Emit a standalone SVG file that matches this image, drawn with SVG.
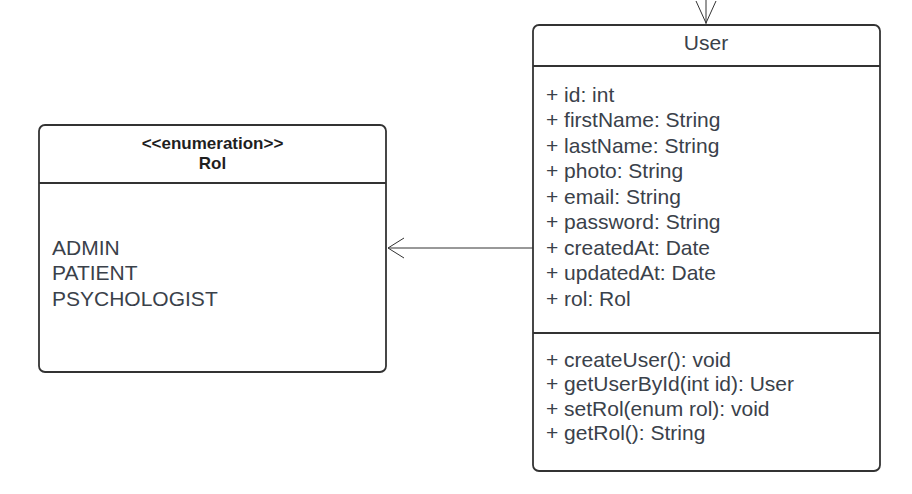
<svg xmlns="http://www.w3.org/2000/svg" width="912" height="494" viewBox="0 0 912 494">
<style>
.box{fill:#ffffff;stroke:#333333;stroke-width:1.8}
.div{stroke:#333333;stroke-width:1.8}
.t{font-family:"Liberation Sans",Arial,sans-serif;font-size:21px;fill:#3a414a}
.h{font-family:"Liberation Sans",Arial,sans-serif;font-size:17px;font-weight:bold;fill:#1f1f1f}
.c{stroke:#333333;stroke-width:1;fill:none}
</style>
<rect width="912" height="494" fill="#ffffff"/>
<g id="connectors">
<line class="c" x1="706" y1="0" x2="706" y2="24"/>
<polyline class="c" points="696,1 706,23 716,1"/>
<line class="c" x1="533" y1="248" x2="388" y2="248"/>
<polyline class="c" points="404,238 388,248 404,258"/>
</g>
<g id="rol">
<rect class="box" x="39" y="125" width="347" height="247" rx="6"/>
<line class="div" x1="39" y1="183" x2="386" y2="183"/>
<text class="h" x="212.5" y="148.5" text-anchor="middle">&lt;&lt;enumeration&gt;&gt;</text>
<text class="h" x="212.5" y="169" text-anchor="middle">Rol</text>
<text class="t" x="52" y="255">ADMIN</text>
<text class="t" x="52" y="280.3">PATIENT</text>
<text class="t" x="52" y="305.6">PSYCHOLOGIST</text>
</g>
<g id="user">
<rect class="box" x="533" y="25" width="347" height="446" rx="6"/>
<line class="div" x1="533" y1="66" x2="880" y2="66"/>
<line class="div" x1="533" y1="333" x2="880" y2="333"/>
<text class="t" x="706" y="50" text-anchor="middle">User</text>
<text class="t" x="546" y="101.5">+ id: int</text>
<text class="t" x="546" y="127">+ firstName: String</text>
<text class="t" x="546" y="152.5">+ lastName: String</text>
<text class="t" x="546" y="178">+ photo: String</text>
<text class="t" x="546" y="203.5">+ email: String</text>
<text class="t" x="546" y="229">+ password: String</text>
<text class="t" x="546" y="254.5">+ createdAt: Date</text>
<text class="t" x="546" y="280">+ updatedAt: Date</text>
<text class="t" x="546" y="305.5">+ rol: Rol</text>
<text class="t" x="546" y="367">+ createUser(): void</text>
<text class="t" x="546" y="391.3">+ getUserById(int id): User</text>
<text class="t" x="546" y="415.6">+ setRol(enum rol): void</text>
<text class="t" x="546" y="439.9">+ getRol(): String</text>
</g>
</svg>
